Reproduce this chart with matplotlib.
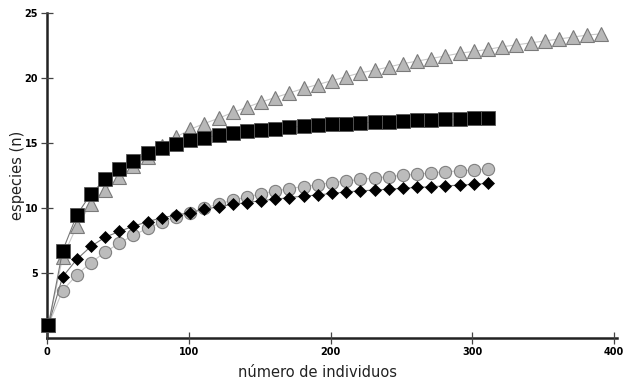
import matplotlib.pyplot as plt

# sample sizes (number of individuals)
n_ind = [1, 11, 21, 31, 41, 51, 61, 71, 81, 91, 101, 111, 121, 131, 141, 151,
         161, 171, 181, 191, 201, 211, 221, 231, 241, 251, 261, 271, 281, 291,
         301, 311, 321, 331, 341, 351, 361, 371, 381, 391]

triangles = [1.0, 6.2, 8.6, 10.3, 11.4, 12.35, 13.2, 13.95, 14.75, 15.45,
             16.05, 16.5, 16.9, 17.35, 17.75, 18.15, 18.5, 18.85, 19.2, 19.5,
             19.8, 20.1, 20.4, 20.6, 20.85, 21.1, 21.3, 21.5, 21.7, 21.9,
             22.05, 22.2, 22.4, 22.55, 22.7, 22.85, 23.0, 23.15, 23.3, 23.4]
squares = [1.0, 6.7, 9.45, 11.1, 12.2, 13.0, 13.65, 14.2, 14.6, 14.9,
           15.2, 15.4, 15.6, 15.75, 15.9, 16.0, 16.1, 16.2, 16.3, 16.4,
           16.45, 16.5, 16.55, 16.6, 16.65, 16.7, 16.75, 16.78, 16.82, 16.86,
           16.9, 16.93]
circles = [1.0, 3.65, 4.85, 5.8, 6.6, 7.3, 7.9, 8.45, 8.9, 9.3,
           9.65, 10.0, 10.3, 10.6, 10.85, 11.1, 11.3, 11.5, 11.65, 11.8,
           11.95, 12.08, 12.2, 12.3, 12.42, 12.52, 12.6, 12.7, 12.78, 12.86,
           12.92, 13.0]
diamonds = [1.0, 4.7, 6.05, 7.05, 7.75, 8.2, 8.6, 8.95, 9.25, 9.45,
            9.65, 9.9, 10.1, 10.28, 10.42, 10.56, 10.68, 10.8, 10.92, 11.0,
            11.12, 11.24, 11.32, 11.38, 11.45, 11.52, 11.58, 11.64, 11.7, 11.76,
            11.82, 11.9]

fig = plt.figure(figsize=(6.25, 3.85), dpi=100)
ax = fig.add_axes([47 / 625, 1 - 338 / 385, 570 / 625, 325 / 385])

ax.plot(n_ind[:len(triangles)], triangles, color='#c8c8c8', lw=0.8, marker='^',
        ms=10, mfc='#b8b8b8', mec='#7a7a7a', mew=0.8, zorder=2)
ax.plot(n_ind[:len(circles)], circles, color='#c8c8c8', lw=0.8, marker='o',
        ms=8.8, mfc='#bcbcbc', mec='#808080', mew=0.8, zorder=3)
ax.plot(n_ind[:len(diamonds)], diamonds, color='#777777', lw=0.8, marker='D',
        ms=6.6, mfc='black', mec='black', mew=0.5, zorder=4)
ax.plot(n_ind[:len(squares)], squares, color='#777777', lw=0.8, marker='s',
        ms=9.5, mfc='black', mec='#555555', mew=0.6, zorder=5, clip_on=False)

ax.set_xlim(0, 402)
ax.set_ylim(0, 25)
ax.set_xticks([0, 100, 200, 300, 400])
ax.set_yticks([5, 10, 15, 20, 25])

for side in ['top', 'right']:
    ax.spines[side].set_visible(False)
for side in ['left', 'bottom']:
    ax.spines[side].set_linewidth(1.8)
    ax.spines[side].set_color('#222222')
    ax.spines[side].set_zorder(1)

ax.tick_params(direction='inout', length=8.5, width=0.9, color='#444444', pad=2.2)
for lab in ax.get_xticklabels() + ax.get_yticklabels():
    lab.set_fontsize(7)
    lab.set_fontweight('bold')

ax.set_xlabel('número de individuos', fontsize=10.5, color='#222222')
ax.set_ylabel('especies (n)', fontsize=10.5, color='#222222')
ax.xaxis.set_label_coords(270 / 570, -27 / 325)
ax.yaxis.set_label_coords(-22 / 570, 0.5)

fig.savefig('out.png', dpi=100)
